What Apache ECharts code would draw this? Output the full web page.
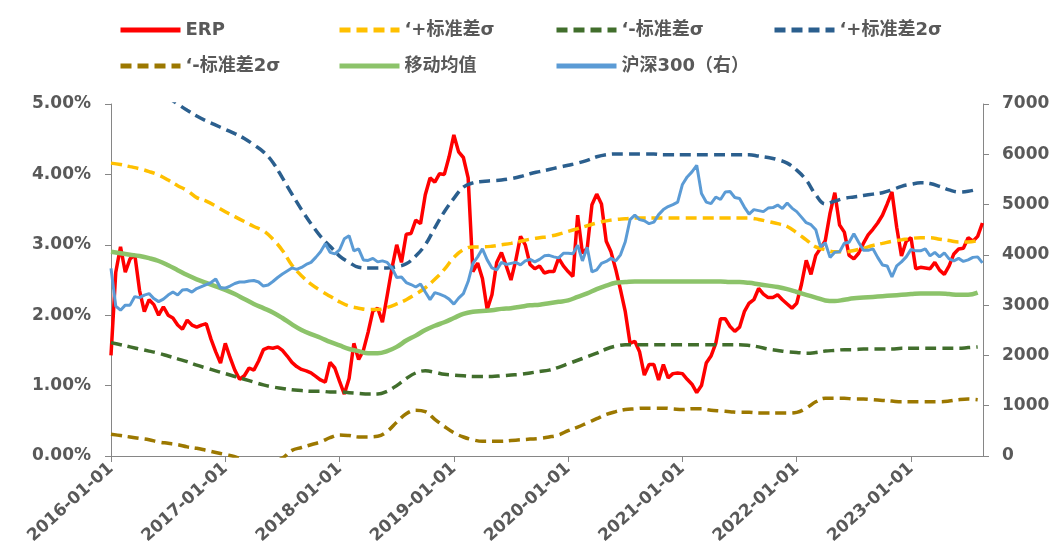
<!DOCTYPE html>
<html>
<head>
<meta charset="utf-8">
<script src="https://cdn.jsdelivr.net/npm/echarts@6/dist/echarts.min.js"></script>
<style>
html, body { margin: 0; background: #fff; }
#chart { width: 1059px; height: 560px; }
</style>
</head>
<body>
<div id="chart"></div>
<script>
// x positions in fractional years: monthly grid for the bands, half-month grid for ERP / CSI300
var monthX = [];
for (var i = 0; i < 92; i++) monthX.push(2016 + i / 12);
var halfMonthX = [];
for (var k = 0; k < 184; k++) halfMonthX.push(2016 + k / 24);

var seriesNames = ['ERP', '‘+标准差σ', '‘-标准差σ', '‘+标准差2σ', '‘-标准差2σ', '移动均值', '沪深300（右）'];

// ERP, %, half-month
var erp = [
    1.43, 2.61, 2.97, 2.61, 2.80, 2.86, 2.35, 2.05,
    2.22, 2.15, 2.00, 2.12, 2.00, 1.96, 1.86, 1.80,
    1.93, 1.86, 1.83, 1.86, 1.88, 1.66, 1.48, 1.32,
    1.60, 1.40, 1.22, 1.09, 1.14, 1.25, 1.22, 1.35,
    1.51, 1.54, 1.53, 1.55, 1.50, 1.42, 1.33, 1.27,
    1.23, 1.21, 1.18, 1.13, 1.08, 1.05, 1.33, 1.25,
    1.06, 0.88, 1.10, 1.60, 1.37, 1.50, 1.76, 2.06,
    2.10, 1.90, 2.28, 2.67, 3.00, 2.75, 3.15, 3.16,
    3.35, 3.30, 3.71, 3.95, 3.89, 4.01, 4.00, 4.25,
    4.56, 4.32, 4.24, 3.95, 2.62, 2.74, 2.52, 2.08,
    2.29, 2.75, 2.89, 2.70, 2.50, 2.78, 3.12, 3.00,
    2.72, 2.66, 2.70, 2.60, 2.62, 2.62, 2.81, 2.70,
    2.62, 2.55, 3.42, 2.88, 2.95, 3.57, 3.72, 3.58,
    3.05, 2.90, 2.65, 2.36, 2.05, 1.60, 1.63, 1.48,
    1.15, 1.30, 1.30, 1.08, 1.30, 1.11, 1.17, 1.18,
    1.17, 1.09, 1.02, 0.90, 1.00, 1.32, 1.42, 1.60,
    1.95, 1.95, 1.84, 1.77, 1.83, 2.05, 2.17, 2.22,
    2.38, 2.30, 2.25, 2.25, 2.29, 2.22, 2.16, 2.10,
    2.17, 2.44, 2.78, 2.58, 2.85, 2.95, 3.06, 3.45,
    3.74, 3.28, 3.18, 2.85, 2.80, 2.88, 3.02, 3.14,
    3.22, 3.31, 3.42, 3.58, 3.75, 3.25, 2.84, 3.05,
    3.10, 2.66, 2.68, 2.67, 2.66, 2.75, 2.64, 2.58,
    2.70, 2.87, 2.94, 2.95, 3.10, 3.05, 3.12, 3.31
];

// CSI300 index level, half-month
var csi300 = [
    3730, 2980, 2900, 3000, 3000, 3170, 3150, 3200,
    3230, 3130, 3070, 3120, 3200, 3260, 3200, 3300,
    3310, 3260, 3330, 3370, 3410, 3450, 3520, 3340,
    3340, 3380, 3430, 3460, 3460, 3480, 3490, 3460,
    3380, 3400, 3470, 3550, 3620, 3680, 3740, 3710,
    3750, 3810, 3850, 3950, 4060, 4220, 4050, 4020,
    4100, 4320, 4380, 4080, 4120, 3900, 3890, 3930,
    3860, 3880, 3850, 3740, 3550, 3560, 3450, 3410,
    3360, 3420, 3260, 3110, 3250, 3220, 3180, 3120,
    3020, 3140, 3230, 3470, 3830, 3960, 4120, 3900,
    3740, 3700, 3850, 3810, 3830, 3850, 3800, 3880,
    3910, 3860, 3910, 3980, 3990, 3960, 3940, 4030,
    4030, 4020, 4190, 3880, 4150, 3660, 3700, 3830,
    3870, 3930, 3880, 4000, 4260, 4700, 4790, 4700,
    4680, 4620, 4650, 4800, 4900, 4960, 5000, 5050,
    5400, 5550, 5650, 5780, 5220, 5050, 5020, 5150,
    5100, 5250, 5260, 5140, 5120, 4950, 4810, 4900,
    4880, 4860, 4930, 4940, 4990, 4920, 5030, 4930,
    4860, 4750, 4640, 4600, 4500, 4160, 4240, 3950,
    4050, 4060, 4230, 4250, 4420, 4250, 4090, 4090,
    4120, 3950, 3800, 3780, 3560, 3780, 3860, 3960,
    4110, 4080, 4080, 4120, 3980, 4050, 3960, 4040,
    3920, 3880, 3930, 3870, 3900, 3950, 3960, 3840
];

// bands, %, monthly
var plus1sd = [
    4.16, 4.14, 4.11, 4.08, 4.04, 3.99, 3.92, 3.84,
    3.77, 3.67, 3.62, 3.55, 3.47, 3.40, 3.33, 3.26,
    3.20, 3.08, 2.92, 2.71, 2.56, 2.44, 2.35, 2.27,
    2.19, 2.13, 2.10, 2.08, 2.08, 2.11, 2.16, 2.22,
    2.30, 2.39, 2.51, 2.65, 2.82, 2.93, 2.97, 2.97,
    2.98, 3.00, 3.02, 3.05, 3.08, 3.10, 3.12, 3.15,
    3.19, 3.23, 3.27, 3.31, 3.34, 3.36, 3.37, 3.38,
    3.38, 3.38, 3.38, 3.38, 3.38, 3.38, 3.38, 3.38,
    3.38, 3.38, 3.38, 3.38, 3.36, 3.33, 3.30, 3.26,
    3.17, 3.07, 2.97, 2.93, 2.90, 2.90, 2.92, 2.95,
    2.99, 3.02, 3.05, 3.07, 3.09, 3.10, 3.10, 3.08,
    3.06, 3.04, 3.04, 3.06
];
var minus1sd = [
    1.61, 1.58, 1.55, 1.52, 1.49, 1.46, 1.42, 1.38,
    1.34, 1.29, 1.25, 1.21, 1.17, 1.13, 1.09, 1.05,
    1.01, 0.98, 0.96, 0.94, 0.93, 0.92, 0.92, 0.91,
    0.91, 0.90, 0.89, 0.88, 0.88, 0.92, 1.00, 1.10,
    1.18, 1.21, 1.19, 1.16, 1.15, 1.14, 1.13, 1.13,
    1.13, 1.14, 1.15, 1.16, 1.18, 1.20, 1.22, 1.26,
    1.31, 1.36, 1.41, 1.46, 1.52, 1.56, 1.58, 1.58,
    1.58, 1.58, 1.58, 1.58, 1.58, 1.58, 1.58, 1.58,
    1.58, 1.58, 1.58, 1.57, 1.55, 1.52, 1.50, 1.48,
    1.47, 1.46, 1.47, 1.49, 1.50, 1.51, 1.51, 1.52,
    1.52, 1.52, 1.52, 1.53, 1.53, 1.53, 1.53, 1.53,
    1.53, 1.53, 1.54, 1.55
];
var plus2sd = [
    5.65, 5.57, 5.48, 5.38, 5.28, 5.18, 5.09, 5.00,
    4.91, 4.83, 4.76, 4.70, 4.64, 4.58, 4.51, 4.42,
    4.32, 4.17, 3.95, 3.72, 3.50, 3.30, 3.12, 2.98,
    2.84, 2.75, 2.68, 2.67, 2.67, 2.67, 2.69, 2.73,
    2.84, 3.00, 3.24, 3.47, 3.66, 3.82, 3.88, 3.90,
    3.91, 3.92, 3.94, 3.97, 4.01, 4.04, 4.07, 4.10,
    4.13, 4.16, 4.20, 4.25, 4.28, 4.29, 4.29, 4.29,
    4.29, 4.29, 4.28, 4.28, 4.28, 4.28, 4.28, 4.28,
    4.28, 4.28, 4.28, 4.28, 4.26, 4.24, 4.21, 4.16,
    4.06, 3.92, 3.71, 3.58, 3.62, 3.66, 3.68, 3.70,
    3.72, 3.74, 3.78, 3.83, 3.86, 3.88, 3.87, 3.83,
    3.78, 3.75, 3.76, 3.79
];
var minus2sd = [
    0.31, 0.29, 0.27, 0.25, 0.23, 0.20, 0.18, 0.16,
    0.13, 0.11, 0.08, 0.05, 0.02, -0.01, -0.06, -0.09,
    -0.10, -0.08, -0.03, 0.08, 0.12, 0.16, 0.20, 0.26,
    0.30, 0.29, 0.27, 0.27, 0.28, 0.35, 0.48, 0.60,
    0.65, 0.63, 0.52, 0.42, 0.33, 0.27, 0.23, 0.21,
    0.21, 0.21, 0.22, 0.23, 0.24, 0.25, 0.27, 0.30,
    0.36, 0.41, 0.47, 0.53, 0.59, 0.63, 0.66, 0.67,
    0.68, 0.68, 0.68, 0.67, 0.66, 0.67, 0.67, 0.65,
    0.64, 0.63, 0.62, 0.62, 0.61, 0.61, 0.61, 0.61,
    0.62, 0.68, 0.77, 0.82, 0.82, 0.82, 0.81, 0.81,
    0.80, 0.79, 0.78, 0.77, 0.77, 0.77, 0.77, 0.77,
    0.78, 0.80, 0.81, 0.80
];
var movingAvg = [
    2.90, 2.88, 2.86, 2.84, 2.81, 2.77, 2.71, 2.64,
    2.57, 2.51, 2.46, 2.41, 2.36, 2.30, 2.23, 2.16,
    2.10, 2.04, 1.96, 1.87, 1.79, 1.73, 1.68, 1.62,
    1.57, 1.52, 1.49, 1.46, 1.46, 1.49, 1.55, 1.64,
    1.71, 1.79, 1.85, 1.90, 1.96, 2.02, 2.05, 2.06,
    2.07, 2.09, 2.10, 2.12, 2.14, 2.15, 2.17, 2.19,
    2.21, 2.26, 2.31, 2.37, 2.42, 2.46, 2.47, 2.48,
    2.48, 2.48, 2.48, 2.48, 2.48, 2.48, 2.48, 2.48,
    2.48, 2.47, 2.47, 2.46, 2.44, 2.42, 2.40, 2.37,
    2.33, 2.29, 2.25, 2.21, 2.20, 2.22, 2.24, 2.25,
    2.26, 2.27, 2.28, 2.29, 2.30, 2.31, 2.31, 2.31,
    2.30, 2.29, 2.29, 2.32
];

var leftTicks = [0, 1, 2, 3, 4, 5];
var rightTicks = [0, 1000, 2000, 3000, 4000, 5000, 6000, 7000];

function pairs(xs, ys) {
    return ys.map(function (v, i) { return [xs[i], v]; });
}

var axisGrey = '#868686';
var textGrey = '#595959';
var fontFam = '"DejaVu Sans", "Noto Sans CJK SC", sans-serif';
var dash = [11, 6];

function legendAt(name, left, top) {
    return {
        data: [name],
        left: left,
        top: top,
        itemWidth: 60,
        itemHeight: 14,
        itemStyle: { opacity: 0 },
        lineStyle: { width: 5 },
        textStyle: { color: textGrey, fontSize: 18, fontWeight: 'bold', fontFamily: fontFam }
    };
}

function lineSeries(name, data, color, width, type, yIndex, smooth) {
    return {
        name: name,
        type: 'line',
        yAxisIndex: yIndex,
        data: data,
        symbol: 'none',
        smooth: smooth,
        clip: true,
        lineStyle: { color: color, width: width, type: type, cap: 'butt' },
        itemStyle: { color: color },
        emphasis: { disabled: true }
    };
}

var option = {
    animation: false,
    backgroundColor: '#ffffff',
    legend: [
        legendAt(seriesNames[0], 113, 16),
        legendAt(seriesNames[1], 332, 16),
        legendAt(seriesNames[2], 549, 16),
        legendAt(seriesNames[3], 767, 16),
        legendAt(seriesNames[4], 113, 52),
        legendAt(seriesNames[5], 332, 52),
        legendAt(seriesNames[6], 549, 52)
    ],
    grid: { left: 111, right: 76, top: 104, bottom: 104 },
    xAxis: {
        type: 'value',
        min: 2016,
        max: 2023.63,
        interval: 1,
        splitLine: { show: false },
        axisLine: { show: true, lineStyle: { color: axisGrey, width: 1 } },
        axisTick: { show: true, length: 6, lineStyle: { color: axisGrey } },
        axisLabel: {
            rotate: 42,
            margin: 10,
            color: textGrey,
            fontSize: 17,
            fontWeight: 'bold',
            fontFamily: fontFam,
            showMaxLabel: false,
            formatter: function (v) {
                return Math.abs(v - Math.round(v)) < 1e-6 ? Math.round(v) + '-01-01' : '';
            }
        }
    },
    yAxis: [
        {
            type: 'value',
            min: leftTicks[0],
            max: leftTicks[leftTicks.length - 1],
            interval: 1,
            splitLine: { show: false },
            axisLine: { show: true, lineStyle: { color: axisGrey, width: 1 } },
            axisTick: { show: true, length: 6, lineStyle: { color: axisGrey } },
            axisLabel: {
                margin: 20,
                color: textGrey,
                fontSize: 17,
                fontWeight: 'bold',
                fontFamily: fontFam,
                formatter: function (v) { return v.toFixed(2) + '%'; }
            }
        },
        {
            type: 'value',
            position: 'right',
            min: rightTicks[0],
            max: rightTicks[rightTicks.length - 1],
            interval: 1000,
            splitLine: { show: false },
            axisLine: { show: true, lineStyle: { color: axisGrey, width: 1 } },
            axisTick: { show: true, length: 6, lineStyle: { color: axisGrey } },
            axisLabel: {
                margin: 19,
                color: textGrey,
                fontSize: 17,
                fontWeight: 'bold',
                fontFamily: fontFam,
                formatter: function (v) { return String(v); }
            }
        }
    ],
    series: [
        lineSeries(seriesNames[0], pairs(halfMonthX, erp), '#ff0000', 3.5, 'solid', 0, false),
        lineSeries(seriesNames[1], pairs(monthX, plus1sd), '#ffc000', 3.5, dash, 0, 0.4),
        lineSeries(seriesNames[2], pairs(monthX, minus1sd), '#416e2c', 3.5, dash, 0, 0.4),
        lineSeries(seriesNames[3], pairs(monthX, plus2sd), '#2b5f8e', 3.5, dash, 0, 0.4),
        lineSeries(seriesNames[4], pairs(monthX, minus2sd), '#9c7800', 3.5, dash, 0, 0.4),
        lineSeries(seriesNames[5], pairs(monthX, movingAvg), '#8cc36a', 4.5, 'solid', 0, 0.4),
        lineSeries(seriesNames[6], pairs(halfMonthX, csi300), '#5b9bd5', 3, 'solid', 1, false)
    ]
};

var chart = echarts.init(document.getElementById('chart'));
chart.setOption(option);
</script>
</body>
</html>
